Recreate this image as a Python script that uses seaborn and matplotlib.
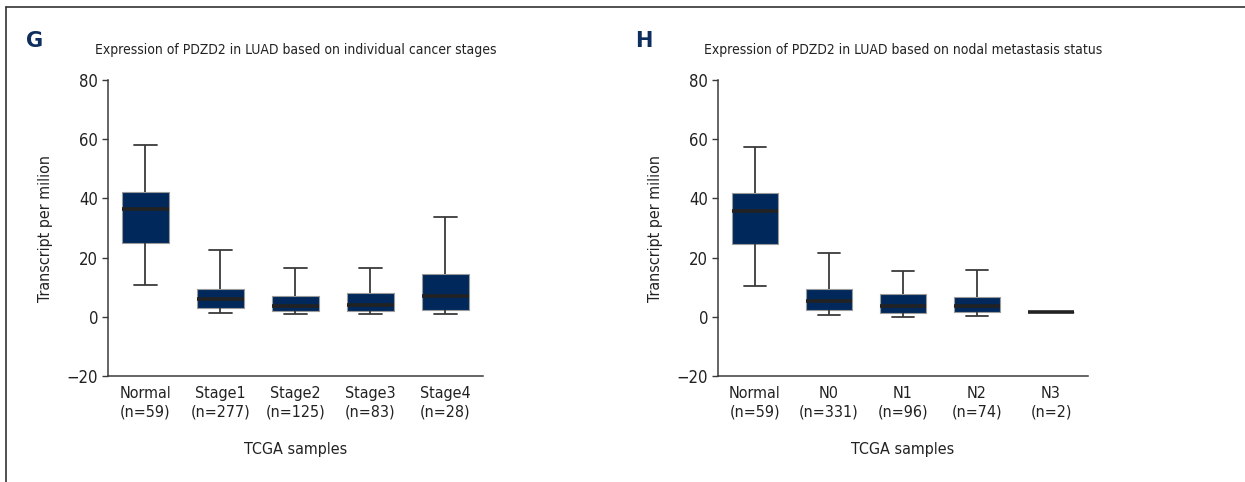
import matplotlib
matplotlib.use("Agg")
import matplotlib.pyplot as plt
import numpy as np
import pandas as pd
import seaborn as sns

# five-number summaries: whisker low, q1, median, q3, whisker high
STAGE_GROUPS = ["Normal\n(n=59)", "Stage1\n(n=277)", "Stage2\n(n=125)", "Stage3\n(n=83)", "Stage4\n(n=28)"]
STAGE_VALUES = [
    [10.7, 24.8, 36.3, 42.0, 58.1],
    [1.2, 2.9, 6.0, 9.5, 22.6],
    [1.0, 2.1, 3.7, 7.0, 16.5],
    [0.8, 2.0, 4.1, 7.9, 16.4],
    [0.9, 2.4, 6.9, 14.4, 33.6],
]

NODAL_GROUPS = ["Normal\n(n=59)", "N0\n(n=331)", "N1\n(n=96)", "N2\n(n=74)", "N3\n(n=2)"]
NODAL_VALUES = [
    [10.3, 24.6, 35.8, 41.7, 57.4],
    [0.6, 2.4, 5.4, 9.4, 21.7],
    [0.1, 1.4, 3.7, 7.7, 15.6],
    [0.2, 1.7, 3.7, 6.8, 15.9],
    [1.5, 1.5, 1.5, 1.5, 1.5],
]

TITLES = [
    "Expression of PDZD2 in LUAD based on individual cancer stages",
    "Expression of PDZD2 in LUAD based on nodal metastasis status",
]
PANEL_LETTERS = ["G", "H"]

BOX_COLOR = "#00285a"
LETTER_COLOR = "#0e2f5e"
LINE_COLOR = "#3a3a3a"

sns.set_style("ticks")
plt.rcParams["font.family"] = ["DejaVu Sans"]
plt.rcParams["font.stretch"] = "condensed"
plt.rcParams["text.color"] = "#222222"
plt.rcParams["axes.labelcolor"] = "#222222"
plt.rcParams["xtick.labelcolor"] = "#222222"
plt.rcParams["ytick.labelcolor"] = "#222222"


def to_frame(groups, values):
    rows = []
    for g, vals in zip(groups, values):
        for v in vals:
            rows.append({"group": g, "tpm": v})
    return pd.DataFrame(rows)


def draw_panel(ax, groups, values, title):
    df = to_frame(groups, values)
    sns.boxplot(
        data=df, x="group", y="tpm", order=groups, ax=ax,
        whis=(0, 100), width=0.62, color=BOX_COLOR, saturation=1,
        linecolor=LINE_COLOR, linewidth=1.3, fliersize=0,
        medianprops=dict(color="#222222", linewidth=2.6),
    )
    for patch in ax.patches:
        patch.set_edgecolor("#9a9a9a")
        patch.set_linewidth(0.8)
    ax.set_ylim(-20, 80)
    ax.set_xlim(-0.5, 4.5)
    ax.set_yticks([-20, 0, 20, 40, 60, 80])
    ax.set_yticklabels(["\u221220", "0", "20", "40", "60", "80"])
    ax.tick_params(axis="y", length=4, width=1, color=LINE_COLOR, labelsize=12, pad=3)
    ax.tick_params(axis="x", length=0, labelsize=11.5, pad=7)
    for lbl in ax.get_xticklabels():
        lbl.set_linespacing(1.35)
    ax.set_xlabel("TCGA samples", fontsize=11.5, labelpad=16)
    ax.set_ylabel("Transcript per milion", fontsize=11.5, labelpad=10)
    ax.set_title(title, fontsize=10, pad=19)
    for side in ["left", "bottom"]:
        ax.spines[side].set_color(LINE_COLOR)
        ax.spines[side].set_linewidth(1.1)
    sns.despine(ax=ax)


fig = plt.figure(figsize=(12.45, 4.82), dpi=100)
ax1 = fig.add_axes([0.0867, 0.2199, 0.3012, 0.6141])
ax2 = fig.add_axes([0.5767, 0.2199, 0.2972, 0.6141])

draw_panel(ax1, STAGE_GROUPS, STAGE_VALUES, TITLES[0])
draw_panel(ax2, NODAL_GROUPS, NODAL_VALUES, TITLES[1])

fig.text(35 / 1245, 1 - 41 / 482, PANEL_LETTERS[0], fontsize=15, fontweight="bold",
         color=LETTER_COLOR, family="DejaVu Sans", stretch="normal", ha="center", va="center")
fig.text(644 / 1245, 1 - 41 / 482, PANEL_LETTERS[1], fontsize=15, fontweight="bold",
         color=LETTER_COLOR, family="DejaVu Sans", stretch="normal", ha="center", va="center")

# frame of the cropped figure: top and left edges
fig.add_artist(plt.Line2D([6 / 1245, 1], [1 - 7 / 482, 1 - 7 / 482],
                          transform=fig.transFigure, color="#333333", linewidth=1.2))
fig.add_artist(plt.Line2D([6 / 1245, 6 / 1245], [0, 1 - 7 / 482],
                          transform=fig.transFigure, color="#333333", linewidth=1.2))

fig.savefig("out.png", dpi=100)
